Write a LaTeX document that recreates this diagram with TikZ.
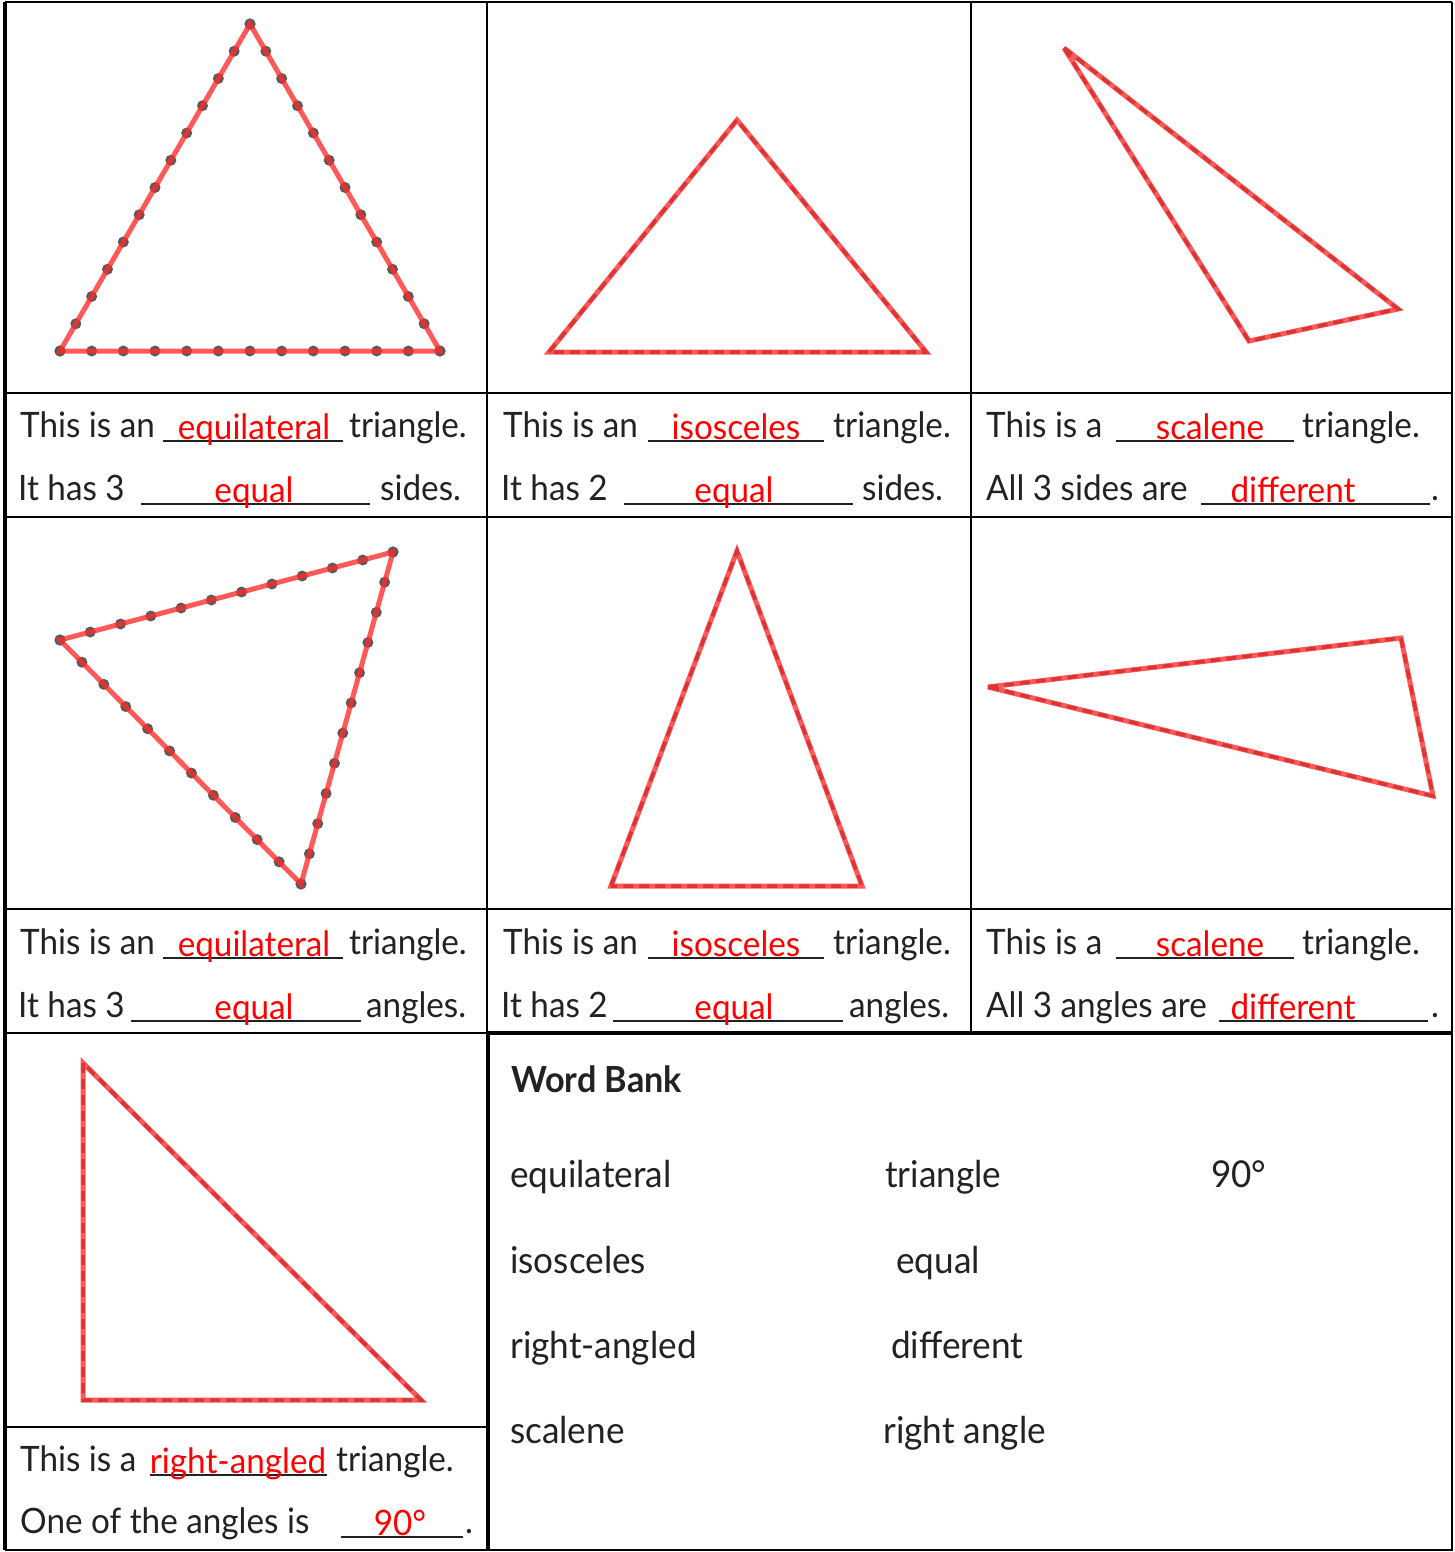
\documentclass[tikz,border=0pt]{standalone}
\usepackage{fontspec}
\setmainfont{Lato}[FakeStretch=0.95]
\usepackage{tikz}
\usetikzlibrary{calc}
\usepackage{xcolor}

\definecolor{inkgray}{HTML}{222222}
\definecolor{dotgray}{HTML}{5A5A5A}
\definecolor{trired}{HTML}{FF2A2A}

\tikzset{
  grid/.style={black, line width=2.2pt},
  thickgrid/.style={black, line width=4.5pt},
  tri/.style={trired, opacity=0.78, line width=5pt, line join=miter, miter limit=3},
  dashguide/.style={dotgray, line width=3.5pt, dash pattern=on 10pt off 6pt},
  txt/.style={anchor=base west, inner sep=0pt, text=inkgray, font=\fontsize{35}{40}\selectfont},
  ans/.style={anchor=base, inner sep=0pt, text=red, font=\fontsize{35}{40}\selectfont},
  blank/.style={inkgray, line width=2pt},
  bank/.style={anchor=base west, inner sep=0pt, text=inkgray, font=\fontsize{37}{42}\selectfont},
}

\begin{document}
\begin{tikzpicture}[x=1pt, y=-1pt]
\useasboundingbox (0,0) rectangle (1455,1552);

% equilateral (sides)
\coordinate (eqA) at (60,351);
\coordinate (eqB) at (250,24);
\coordinate (eqC) at (440,351);
\foreach \t in {0,...,12} {
  \fill[dotgray] ($(eqA)!\t/12!(eqB)$) circle (5.5pt);
  \fill[dotgray] ($(eqB)!\t/12!(eqC)$) circle (5.5pt);
  \fill[dotgray] ($(eqC)!\t/12!(eqA)$) circle (5.5pt);
}
\draw[tri] (eqA) -- (eqB) -- (eqC) -- cycle;

% isosceles (sides)
\coordinate (isA) at (549,352);
\coordinate (isB) at (737,120);
\coordinate (isC) at (926,352);
\draw[dashguide] (isA) -- (isB) -- (isC) -- cycle;
\draw[tri] (isA) -- (isB) -- (isC) -- cycle;

% scalene (sides)
\coordinate (scA) at (1064,48);
\coordinate (scB) at (1398,309);
\coordinate (scC) at (1249,341);
\draw[dashguide] (scA) -- (scB) -- (scC) -- cycle;
\draw[tri] (scA) -- (scB) -- (scC) -- cycle;

% equilateral (angles)
\coordinate (eqD) at (60,640);
\coordinate (eqE) at (393,552);
\coordinate (eqF) at (301,884);
\foreach \t in {0,...,11} {
  \fill[dotgray] ($(eqD)!\t/11!(eqE)$) circle (5.5pt);
  \fill[dotgray] ($(eqE)!\t/11!(eqF)$) circle (5.5pt);
  \fill[dotgray] ($(eqF)!\t/11!(eqD)$) circle (5.5pt);
}
\draw[tri] (eqD) -- (eqE) -- (eqF) -- cycle;

% isosceles (angles)
\coordinate (isD) at (611,886);
\coordinate (isE) at (737,551);
\coordinate (isF) at (862,886);
\draw[dashguide] (isD) -- (isE) -- (isF) -- cycle;
\draw[tri] (isD) -- (isE) -- (isF) -- cycle;

% scalene (angles)
\coordinate (scD) at (988,687);
\coordinate (scE) at (1401,638);
\coordinate (scF) at (1433,796);
\draw[dashguide] (scD) -- (scE) -- (scF) -- cycle;
\draw[tri] (scD) -- (scE) -- (scF) -- cycle;

% right-angled
\coordinate (rtA) at (83,1063);
\coordinate (rtB) at (83,1400);
\coordinate (rtC) at (421,1400);
\draw[dashguide] (rtA) -- (rtB) -- (rtC) -- cycle;
\draw[tri] (rtA) -- (rtB) -- (rtC) -- cycle;

% grid
\draw[grid] (5,2) -- (1452,2);
\draw[grid] (1452,2) -- (1452,1550) -- (5,1550);
\draw[grid] (5,393) -- (1452,393);
\draw[grid] (5,517) -- (1452,517);
\draw[grid] (5,909) -- (1452,909);
\draw[grid] (5,1033) -- (487,1033);
\draw[grid] (5,1427) -- (487,1427);
\draw[grid] (487,2) -- (487,1033);
\draw[grid] (971,2) -- (971,1033);
\draw[thickgrid] (5,2) -- (5,1550);
\draw[thickgrid] (488,1033) -- (1452,1033);
\draw[thickgrid] (488,1033) -- (488,1550);

% row 1
\node[txt] (s1a) at (20,437) {This is an};
\draw[blank] (163,441) -- (343,441);
\node[ans] (w1a) at (254,439) {equilateral};
\node[txt] (s1b) at (349,437) {triangle.};
\node[txt] (s1c) at (18,500) {It has 3};
\draw[blank] (141,504) -- (370,504);
\node[ans] (w1b) at (254,502) {equal};
\node[txt] (s1d) at (380,500) {sides.};

\node[txt] (s2a) at (503,437) {This is an};
\draw[blank] (648,441) -- (824,441);
\node[ans] (w2a) at (736,439) {isosceles};
\node[txt] (s2b) at (833,437) {triangle.};
\node[txt] (s2c) at (501,500) {It has 2};
\draw[blank] (624,504) -- (853,504);
\node[ans] (w2b) at (734,502) {equal};
\node[txt] (s2d) at (862,500) {sides.};

\node[txt] (s3a) at (986,437) {This is a};
\draw[blank] (1116,441) -- (1294,441);
\node[ans] (w3a) at (1210,439) {scalene};
\node[txt] (s3b) at (1302,437) {triangle.};
\node[txt] (s3c) at (986,500) {All 3 sides are};
\draw[blank] (1201,504) -- (1430,504);
\node[ans] (w3b) at (1293,502) {different};
\node[txt] (s3d) at (1431,500) {.};

% row 2
\node[txt] (s4a) at (20,954) {This is an};
\draw[blank] (163,958) -- (343,958);
\node[ans] (w4a) at (254,956) {equilateral};
\node[txt] (s4b) at (349,954) {triangle.};
\node[txt] (s4c) at (18,1017) {It has 3};
\draw[blank] (131,1021) -- (361,1021);
\node[ans] (w4b) at (254,1019) {equal};
\node[txt] (s4d) at (366,1017) {angles.};

\node[txt] (s5a) at (503,954) {This is an};
\draw[blank] (648,958) -- (824,958);
\node[ans] (w5a) at (736,956) {isosceles};
\node[txt] (s5b) at (833,954) {triangle.};
\node[txt] (s5c) at (501,1017) {It has 2};
\draw[blank] (613,1021) -- (843,1021);
\node[ans] (w5b) at (734,1019) {equal};
\node[txt] (s5d) at (849,1017) {angles.};

\node[txt] (s6a) at (986,954) {This is a};
\draw[blank] (1116,958) -- (1294,958);
\node[ans] (w6a) at (1210,956) {scalene};
\node[txt] (s6b) at (1302,954) {triangle.};
\node[txt] (s6c) at (986,1017) {All 3 angles are};
\draw[blank] (1219,1021) -- (1428,1021);
\node[ans] (w6b) at (1293,1019) {different};
\node[txt] (s6d) at (1431,1017) {.};

% row 3
\node[txt] (s7a) at (20,1471) {This is a};
\draw[blank] (150,1475) -- (327,1475);
\node[ans] (w7a) at (238,1473) {right-angled};
\node[txt] (s7b) at (336,1471) {triangle.};
\node[txt] (s7c) at (20,1533) {One of the angles is};
\draw[blank] (341,1537) -- (463,1537);
\node[ans] (w7b) at (400,1535) {90°};
\node[txt] (s7d) at (465,1533) {.};

% word bank
\node[bank, font=\fontsize{36}{42}\selectfont\bfseries] (bank) at (511,1092) {Word Bank};
\node[bank] (b1) at (510,1187) {equilateral};
\node[bank] (b2) at (510,1273) {isosceles};
\node[bank] (b3) at (510,1358) {right-angled};
\node[bank] (b4) at (510,1443) {scalene};
\node[bank] (b5) at (885,1187) {triangle};
\node[bank] (b6) at (896,1273) {equal};
\node[bank] (b7) at (891,1358) {different};
\node[bank] (b8) at (883,1443) {right angle};
\node[bank] (b9) at (1211,1187) {90°};

\end{tikzpicture}
\end{document}
